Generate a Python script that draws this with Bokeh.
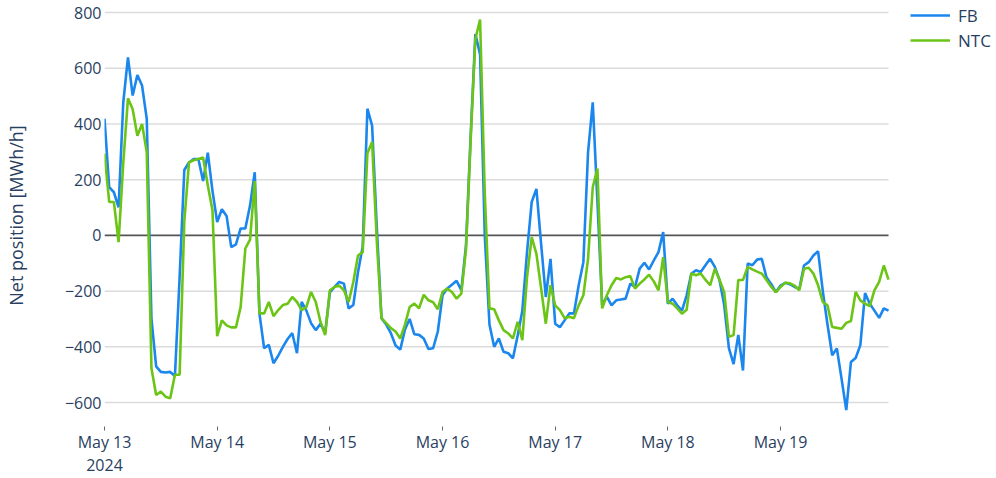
import pandas as pd
from bokeh.plotting import figure
from bokeh.models import (Range1d, FixedTicker, DatetimeTickFormatter,
                          Legend, LegendItem)
from bokeh.embed import file_html
from bokeh.resources import INLINE

# ---------------- data (hourly, 13-19 May 2024) ----------------
start_time = "2024-05-13 00:00"

fb_may13 = [419, 173, 155, 101, 478, 639, 502, 576, 538, 419, -300, -470,
            -490, -492, -490, -505, -150, 235, 262, 274, 274, 195, 297, 160]
fb_may14 = [48, 94, 70, -42, -32, 25, 25, 107, 227, -280, -405, -393,
            -459, -432, -400, -372, -351, -423, -239, -270, -315, -340, -317, -350]
fb_may15 = [-205, -185, -167, -173, -262, -250, -131, -40, 455, 394, 30, -297,
            -320, -351, -395, -410, -338, -300, -355, -357, -370, -408, -405, -345]
fb_may16 = [-215, -191, -177, -163, -197, -36, 360, 723, 650, 0, -320, -400,
            -370, -418, -423, -441, -360, -270, -60, 120, 167, -30, -221, -84]
fb_may17 = [-317, -330, -305, -280, -280, -179, -96, 299, 478, 120, -250, -220,
            -251, -233, -230, -227, -173, -185, -119, -98, -122, -90, -60, 12]
fb_may18 = [-245, -227, -251, -270, -215, -137, -125, -131, -107, -84, -113, -160,
            -250, -405, -462, -357, -485, -101, -107, -87, -84, -150, -174, -204]
fb_may19 = [-180, -170, -175, -185, -192, -108, -96, -72, -57, -200, -320, -430,
            -406, -515, -627, -454, -440, -394, -207, -245, -270, -296, -262, -270]

ntc_may13 = [294, 120, 120, -24, 260, 492, 453, 358, 400, 299, -477, -573,
             -561, -579, -585, -500, -500, 50, 262, 270, 274, 280, 180, 90]
ntc_may14 = [-362, -305, -323, -330, -330, -257, -47, -15, 195, -280, -280, -239,
             -290, -268, -250, -245, -221, -239, -268, -257, -203, -239, -310, -358]
ntc_may15 = [-197, -185, -180, -197, -239, -167, -72, -60, 295, 335, -20, -297,
             -315, -333, -345, -370, -320, -257, -245, -262, -213, -233, -240, -265]
ntc_may16 = [-203, -191, -203, -227, -209, -50, 345, 705, 775, 150, -262, -265,
             -305, -340, -352, -370, -310, -376, -150, -6, -66, -190, -317, -179]
ntc_may17 = [-251, -268, -297, -292, -297, -251, -215, -84, 173, 240, -262, -215,
             -179, -153, -158, -150, -146, -191, -173, -158, -141, -165, -197, -78]
ntc_may18 = [-239, -245, -262, -281, -267, -137, -143, -137, -159, -179, -120, -159,
             -204, -364, -358, -160, -160, -113, -122, -130, -137, -160, -184, -204]
ntc_may19 = [-185, -170, -172, -180, -197, -120, -116, -137, -179, -239, -251, -329,
             -332, -335, -314, -307, -203, -233, -245, -254, -197, -167, -108, -159]

fb = fb_may13 + fb_may14 + fb_may15 + fb_may16 + fb_may17 + fb_may18 + fb_may19
ntc = ntc_may13 + ntc_may14 + ntc_may15 + ntc_may16 + ntc_may17 + ntc_may18 + ntc_may19

y_ticks = [-600, -400, -200, 0, 200, 400, 600, 800]
day_ticks = ["2024-05-13", "2024-05-14", "2024-05-15", "2024-05-16",
             "2024-05-17", "2024-05-18", "2024-05-19"]
first_tick_label = "May 13\n2024"
series_names = ["FB", "NTC"]

# ---------------- styling ----------------
TEXT = "#2a3f5f"
FONT = "Open Sans"
FB_COLOR = "#1a86ee"
NTC_COLOR = "#6cc516"
GRID = "#dcdcdc"

times = pd.date_range(start_time, periods=len(fb), freq="h")
tick_ms = [pd.Timestamp(d).value // 10**6 for d in day_ticks]

# frame is extended to the right so the legend (outside the data area) can be drawn
p = figure(width=996, height=478, x_axis_type="datetime",
           output_backend="svg", toolbar_location=None,
           x_range=Range1d(times[0], times[0] + pd.Timedelta(hours=190.0)),
           y_range=Range1d(-686, 829),
           min_border_left=104, min_border_right=0,
           min_border_top=4, min_border_bottom=51)

p.outline_line_color = None
p.background_fill_color = "white"
p.border_fill_color = "white"
p.xgrid.visible = False
p.ygrid.visible = False

# horizontal grid lines spanning the data period only
other_ticks = [t for t in y_ticks if t != 0]
p.segment(x0=[times[0]] * len(other_ticks), x1=[times[-1]] * len(other_ticks),
          y0=other_ticks, y1=other_ticks, line_color=GRID, line_width=1.5)
p.segment(x0=[times[0]], x1=[times[-1]], y0=[0], y1=[0],
          line_color="#555555", line_width=1.6)

r_fb = p.line(times, fb, line_color=FB_COLOR, line_width=2.6)
r_ntc = p.line(times, ntc, line_color=NTC_COLOR, line_width=2.6)

# y axis
p.yaxis.ticker = FixedTicker(ticks=y_ticks)
p.yaxis.major_label_overrides = {t: str(t).replace("-", "\u2212") for t in y_ticks if t < 0}
p.yaxis.major_tick_line_color = None
p.yaxis.major_tick_out = 0
p.yaxis.major_tick_in = 0
p.yaxis.minor_tick_line_color = None
p.yaxis.axis_line_color = None
p.yaxis.major_label_standoff = 3
p.yaxis.axis_label = "Net position [MWh/h]"
p.yaxis.axis_label_standoff = 34
p.yaxis.axis_label_text_font = FONT
p.yaxis.axis_label_text_font_size = "18px"
p.yaxis.axis_label_text_font_style = "normal"
p.yaxis.axis_label_text_color = TEXT

# x axis
p.xaxis.ticker = FixedTicker(ticks=tick_ms)
p.xaxis.formatter = DatetimeTickFormatter(days="%b %d")
p.xaxis.major_label_overrides = {tick_ms[0]: first_tick_label}
p.xaxis.major_tick_out = 4
p.xaxis.major_tick_in = 0
p.xaxis.major_tick_line_color = "#666666"
p.xaxis.minor_tick_line_color = None
p.xaxis.axis_line_color = None
p.xaxis.major_label_standoff = 0
p.xaxis.major_label_text_line_height = 1.05

for ax in (p.xaxis, p.yaxis):
    ax.major_label_text_font = FONT
    ax.major_label_text_font_size = "16px"
    ax.major_label_text_color = TEXT

legend = Legend(items=[LegendItem(label=series_names[0], renderers=[r_fb]),
                       LegendItem(label=series_names[1], renderers=[r_ntc])],
                location=(806, 374), orientation="vertical",
                glyph_width=40, glyph_height=24, label_height=24,
                spacing=1, padding=0, margin=0, label_standoff=8,
                label_text_font=FONT, label_text_font_size="17px",
                label_text_color=TEXT, border_line_alpha=0,
                background_fill_alpha=0)
p.add_layout(legend)

open("out.html", "w").write(file_html(p, INLINE))
